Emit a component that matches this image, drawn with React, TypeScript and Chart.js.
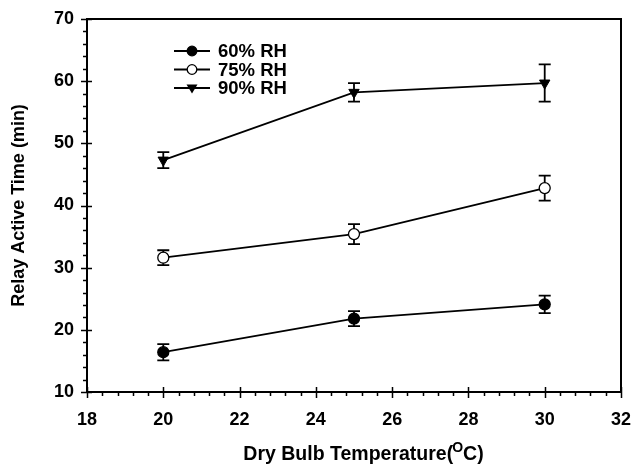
import React, { useEffect, useRef } from "react";
import { Chart, registerables } from "chart.js";

Chart.register(...registerables);

const temperatures = [20, 25, 30];
const rh60 = [16.4, 21.8, 24.1];
const rh60Err = [1.3, 1.2, 1.4];
const rh75 = [31.6, 35.4, 42.8];
const rh75Err = [1.2, 1.6, 2.0];
const rh90 = [47.3, 58.2, 59.7];
const rh90Err = [1.3, 1.5, 3.0];
const seriesLabels = ["60% RH", "75% RH", "90% RH"];
const xTitleMain = "Dry Bulb Temperature(";
const xTitleSup = "O";
const xTitleEnd = "C)";
const yTitle = "Relay Active Time (min)";

const FONT = "'Liberation Sans', Arial, Helvetica, sans-serif";

const errors = [rh60Err, rh75Err, rh90Err];

const customPlugin = {
  id: "custom",
  beforeDatasetsDraw(chart: any) {
    const ctx = chart.ctx;
    const xs = chart.scales.x;
    const ys = chart.scales.y;
    ctx.save();
    ctx.strokeStyle = "#000";
    ctx.lineWidth = 1.8;
    chart.data.datasets.forEach((ds: any, i: number) => {
      ds.data.forEach((p: any, j: number) => {
        const e = errors[i][j];
        const px = xs.getPixelForValue(p.x);
        const top = ys.getPixelForValue(p.y + e);
        const bot = ys.getPixelForValue(p.y - e);
        ctx.beginPath();
        ctx.moveTo(px, top);
        ctx.lineTo(px, bot);
        ctx.moveTo(px - 6, top);
        ctx.lineTo(px + 6, top);
        ctx.moveTo(px - 6, bot);
        ctx.lineTo(px + 6, bot);
        ctx.stroke();
      });
    });
    ctx.restore();
  },
  afterDraw(chart: any) {
    const ctx = chart.ctx;
    const a = chart.chartArea;
    const xs = chart.scales.x;
    const ys = chart.scales.y;
    ctx.save();
    ctx.strokeStyle = "#000";
    // frame
    ctx.lineWidth = 2;
    ctx.beginPath();
    ctx.rect(a.left, a.top, a.right - a.left, a.bottom - a.top);
    ctx.stroke();
    // x ticks
    ctx.lineWidth = 1.5;
    ctx.beginPath();
    for (let v = 18; v <= 32.001; v += 0.4) {
      const px = Math.round(xs.getPixelForValue(v)) + 0.5;
      const isMajor = Math.abs(v / 2 - Math.round(v / 2)) < 0.01;
      if (isMajor) {
        ctx.moveTo(px, a.bottom - 5);
        ctx.lineTo(px, a.bottom + 6);
      } else {
        ctx.moveTo(px, a.bottom);
        ctx.lineTo(px, a.bottom + 4);
      }
    }
    // y ticks
    for (let v = 10; v <= 70.001; v += 2) {
      const py = Math.round(ys.getPixelForValue(v)) + 0.5;
      const isMajor = v % 10 === 0;
      if (isMajor) {
        ctx.moveTo(a.left - 6, py);
        ctx.lineTo(a.left + 5, py);
      } else {
        ctx.moveTo(a.left - 4, py);
        ctx.lineTo(a.left, py);
      }
    }
    ctx.stroke();

    // legend
    const lx0 = 174;
    const lx1 = 210;
    const lmx = 192;
    const tx = 218;
    const rows = [51, 69.5, 88];
    ctx.font = `bold 18.5px ${FONT}`;
    ctx.textBaseline = "middle";
    ctx.fillStyle = "#000";
    chart.data.datasets.forEach((ds: any, i: number) => {
      const y = rows[i];
      ctx.lineWidth = 1.8;
      ctx.beginPath();
      ctx.moveTo(lx0, y);
      ctx.lineTo(lx1, y);
      ctx.stroke();
      ctx.lineWidth = 1.3;
      if (i === 2) {
        ctx.beginPath();
        ctx.moveTo(lmx - 5.5, y - 3.5);
        ctx.lineTo(lmx + 5.5, y - 3.5);
        ctx.lineTo(lmx, y + 5.5);
        ctx.closePath();
        ctx.fillStyle = "#000";
        ctx.fill();
      } else {
        ctx.beginPath();
        ctx.arc(lmx, y, 4.8, 0, Math.PI * 2);
        ctx.fillStyle = i === 0 ? "#000" : "#fff";
        ctx.fill();
        ctx.stroke();
      }
      ctx.fillStyle = "#000";
      ctx.textAlign = "left";
      ctx.fillText(ds.label, tx, y + 1);
    });

    // x title with superscript
    const mainFont = `bold 19.5px ${FONT}`;
    const supFont = `bold 14px ${FONT}`;
    ctx.font = mainFont;
    const w1 = ctx.measureText(xTitleMain).width;
    ctx.font = supFont;
    const w2 = ctx.measureText(xTitleSup).width;
    ctx.font = mainFont;
    const w3 = ctx.measureText(xTitleEnd).width;
    const total = w1 + w2 + w3;
    const cx = (a.left + a.right) / 2 + 10;
    let x = cx - total / 2;
    const by = 460;
    ctx.textAlign = "left";
    ctx.textBaseline = "alphabetic";
    ctx.fillText(xTitleMain, x, by);
    x += w1 - 1;
    ctx.font = supFont;
    ctx.fillText(xTitleSup, x, by - 8);
    x += w2;
    ctx.font = mainFont;
    ctx.fillText(xTitleEnd, x, by);
    ctx.restore();
  },
};

export default function App() {
  const ref = useRef<HTMLCanvasElement>(null);
  useEffect(() => {
    const mk = (ys: number[]) => temperatures.map((t, i) => ({ x: t, y: ys[i] }));
    const chart = new Chart(ref.current!, {
      type: "line",
      data: {
        datasets: [
          {
            label: seriesLabels[0],
            data: mk(rh60),
            borderColor: "#000",
            borderWidth: 1.8,
            pointStyle: "circle",
            pointRadius: 5.5,
            pointBackgroundColor: "#000",
            pointBorderColor: "#000",
            pointBorderWidth: 1.3,
          },
          {
            label: seriesLabels[1],
            data: mk(rh75),
            borderColor: "#000",
            borderWidth: 1.8,
            pointStyle: "circle",
            pointRadius: 5.5,
            pointBackgroundColor: "#fff",
            pointBorderColor: "#000",
            pointBorderWidth: 1.3,
          },
          {
            label: seriesLabels[2],
            data: mk(rh90),
            borderColor: "#000",
            borderWidth: 1.8,
            pointStyle: "triangle",
            pointRotation: 180,
            pointRadius: 6,
            pointBackgroundColor: "#000",
            pointBorderColor: "#000",
            pointBorderWidth: 1,
          },
        ],
      },
      options: {
        animation: false,
        responsive: false,
        maintainAspectRatio: false,
        layout: { padding: { top: 19, right: 15, left: 0, bottom: 0 } },
        plugins: {
          legend: { display: false },
          tooltip: { enabled: false },
        },
        scales: {
          x: {
            type: "linear",
            min: 18,
            max: 32,
            grid: { display: false, drawTicks: false },
            border: { display: false },
            ticks: {
              stepSize: 2,
              color: "#000",
              padding: 17,
              font: { family: FONT, size: 18, weight: "bold" },
            },
            afterFit: (s: any) => {
              s.height = 72;
              s.paddingLeft = 0;
              s.paddingRight = 0;
            },
          },
          y: {
            type: "linear",
            min: 10,
            max: 70,
            grid: { display: false, drawTicks: false },
            border: { display: false },
            ticks: {
              stepSize: 10,
              color: "#000",
              padding: 13,
              font: { family: FONT, size: 18, weight: "bold" },
            },
            title: {
              display: true,
              text: yTitle,
              color: "#000",
              font: { family: FONT, size: 18, weight: "bold" },
              padding: { top: 8, bottom: 0 },
            },
            afterFit: (s: any) => {
              s.width = 87;
              s.paddingTop = 0;
              s.paddingBottom = 0;
            },
          },
        },
      },
      plugins: [customPlugin],
    });
    return () => chart.destroy();
  }, []);
  return (
    <div style={{ position: "fixed", left: 0, top: 0, width: 636, height: 464, background: "#fff" }}>
      <canvas ref={ref} width={636} height={464} style={{ width: 636, height: 464 }} />
    </div>
  );
}
